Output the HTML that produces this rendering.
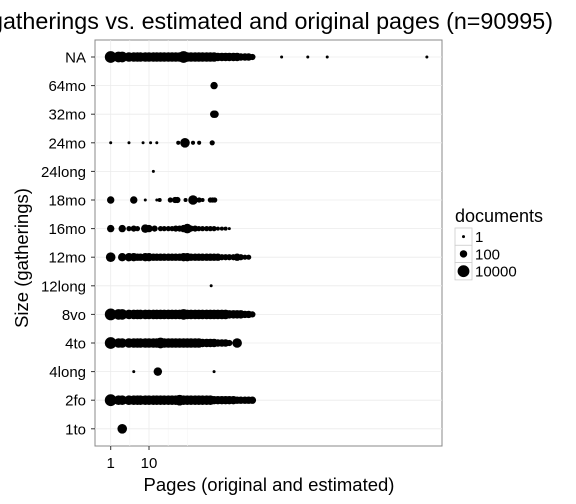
<!DOCTYPE html>
<html><head><meta charset="utf-8"><style>
body{margin:0;background:#fff}
svg{display:block;font-family:"Liberation Sans",sans-serif}
</style></head><body>
<svg id="chart" width="576" height="504" viewBox="0 0 576 504">
<text x="-10" y="29" textLength="563" lengthAdjust="spacingAndGlyphs" font-size="23">gatherings vs. estimated and original pages (n=90995)</text>
<rect x="95" y="40" width="347" height="406" fill="#fff" stroke="#888"/>
<g id="grid"></g>
<g id="points"></g>
<g id="axes"></g>
<text x="269" y="491" text-anchor="middle" font-size="18.5">Pages (original and estimated)</text>
<text transform="translate(28,258) rotate(-90)" text-anchor="middle" font-size="18.5">Size (gatherings)</text>
<g>
<text x="455" y="222" font-size="18">documents</text>
<g id="legend"></g>
</g>
</svg>
<script>
const categories = ["NA","64mo","32mo","24mo","24long","18mo","16mo","12mo","12long","8vo","4to","4long","2fo","1to"];
const tickPages = [1, 10];
const tickLabels = ["1", "10"];
const minorPages = [3.16, 31.6, 100];
const legendDocs = [1, 100, 10000];
const legendLabels = ["1", "100", "10000"];
// each row: pages and documents
const pagesNA = [1,1.6,2,3,4,5,6,8,10,13,16,20,25,32,40,50,63,80,100,125,160,200,250,320,400,500,630,800,1000,1250,1600,2000,2500,3200,4000,5000,29000,1.4e5,4.5e5,1.8e8];
const docsNA  = [10000,3000,3000,1000,1000,1000,1000,1000,1000,1000,1000,1000,1000,1000,1000,1000,1000,10000,1000,1000,1000,1000,1000,1000,1000,1000,300,300,300,300,300,300,100,100,100,30,1,1,1,1];
const pages64mo = [500]; const docs64mo = [100];
const pages32mo = [490,530]; const docs32mo = [100,100];
const pages24mo = [1,3,7,11,16,58,87,141,204,447]; const docs24mo = [1,1,1,1,1,3,1000,3,3,10];
const pages24long = [13]; const docs24long = [1];
const pages18mo = [1,4,8,16,19,36,48,55,90,141,204,250,400,460,520]; const docs18mo = [100,100,1,1,3,10,30,30,3,1000,10,3,10,10,10];
const pages16mo = [1,2,3,4,5,8,10,14,20,25,32,40,50,63,80,100,125,160,200,250,320,400,500,630,800,1000,1250]; const docs16mo = [100,100,10,30,10,300,100,30,10,10,10,10,30,30,100,1000,30,30,10,10,10,10,10,3,3,3,1];
const pages12mo = [1,2,3,4,5,6,8,10,13,16,20,25,32,40,50,63,80,100,125,160,200,250,320,400,500,630,800,1000,1250,1600,2000,2500,3200,4000]; const docs12mo = [1000,300,300,300,100,100,300,300,100,100,100,100,100,100,100,100,300,300,100,100,100,100,100,100,100,100,30,30,30,30,100,30,10,10];
const pages12long = [420]; const docs12long = [1];
const pages8vo = [1,1.6,2,3,4,5,6,8,10,13,16,20,25,32,40,50,63,80,100,125,160,200,250,320,400,500,630,800,1000,1250,1600,2000,2500,3200,4000,5000]; const docs8vo = [10000,3000,3000,1000,1000,1000,1000,1000,1000,1000,1000,1000,1000,1000,1000,1000,1000,3000,1000,1000,1000,1000,1000,1000,1000,1000,1000,1000,1000,300,300,300,300,100,100,30];
const pages4to = [1,1.6,2,3,4,5,6,8,10,13,16,20,25,32,40,50,63,80,100,125,160,200,250,320,400,500,630,800,1000,1250,2000]; const docs4to = [10000,1000,1000,1000,1000,1000,1000,1000,1000,1000,1000,3000,1000,1000,1000,1000,1000,1000,1000,1000,1000,1000,300,300,300,300,100,100,100,30,1000];
const pages4long = [4,17,500]; const docs4long = [1,300,1];
const pages2fo = [1,1.6,2,3,4,5,6,8,10,13,16,20,25,32,40,50,63,80,100,125,160,200,250,320,400,500,630,800,1000,1250,1600,2000,2500,3200,4000,5000]; const docs2fo = [10000,1000,1000,1000,1000,1000,1000,1000,1000,1000,1000,1000,1000,1000,1000,1000,3000,1000,1000,1000,1000,1000,1000,1000,1000,300,300,300,300,300,300,100,100,100,100,100];
const pages1to = [2]; const docs1to = [1000];
const rowPages = [pagesNA,pages64mo,pages32mo,pages24mo,pages24long,pages18mo,pages16mo,pages12mo,pages12long,pages8vo,pages4to,pages4long,pages2fo,pages1to];
const rowDocs = [docsNA,docs64mo,docs32mo,docs24mo,docs24long,docs18mo,docs16mo,docs12mo,docs12long,docs8vo,docs4to,docs4long,docs2fo,docs1to];

const NS = "http://www.w3.org/2000/svg";
function xScale(p){ return 110.7 + 38.3*Math.log10(p); }
function yScale(i){ return 57 + i*28.6; }
function rScale(d){ return 1.5 + 1.1*Math.log10(d); }
function mk(tag, attrs, parent){ const e=document.createElementNS(NS,tag); for(const k in attrs) e.setAttribute(k,attrs[k]); parent.appendChild(e); return e; }
const grid=document.getElementById('grid'), pts=document.getElementById('points'), axes=document.getElementById('axes'), leg=document.getElementById('legend');
minorPages.forEach(p=>{ const l=mk('line',{x1:xScale(p),x2:xScale(p),y1:40,y2:446,stroke:'#f5f5f5','stroke-width':0.6},grid);

 });
categories.forEach((c,i)=>{ const y=yScale(i);
const l=mk('line',{x1:95,x2:442,y1:y,y2:y,stroke:'#ebebeb','stroke-width':0.8},grid);


const t=mk('line',{x1:91,x2:95,y1:y,y2:y,stroke:'#333'},axes);


const tx=mk('text',{x:86,y:y+5.5,'text-anchor':'end','font-size':15},axes); tx.textContent=c;


rowPages[i].forEach((p,j)=>{ const ci=mk('circle',{cx:xScale(p),cy:y,r:rScale(rowDocs[i][j]),fill:'#000'},pts);

 });
});
tickPages.forEach((p,i)=>{ const x=xScale(p);
const l=mk('line',{x1:x,x2:x,y1:40,y2:446,stroke:'#ebebeb','stroke-width':0.8},grid);


const t=mk('line',{x1:x,x2:x,y1:446,y2:450,stroke:'#333'},axes);


const tx=mk('text',{x:x,y:468,'text-anchor':'middle','font-size':15},axes); tx.textContent=tickLabels[i];

 });
legendDocs.forEach((d,i)=>{ const y=228+i*17.3;
const b=mk('rect',{x:455,y:y,width:17,height:17.3,fill:'#fff',stroke:'#ccc','stroke-width':0.8},leg);


const ci=mk('circle',{cx:463.5,cy:y+8.6,r:rScale(d),fill:'#000'},leg);


const tx=mk('text',{x:475,y:y+14,'font-size':15},leg); tx.textContent=legendLabels[i];

 });
</script>
</body></html>
